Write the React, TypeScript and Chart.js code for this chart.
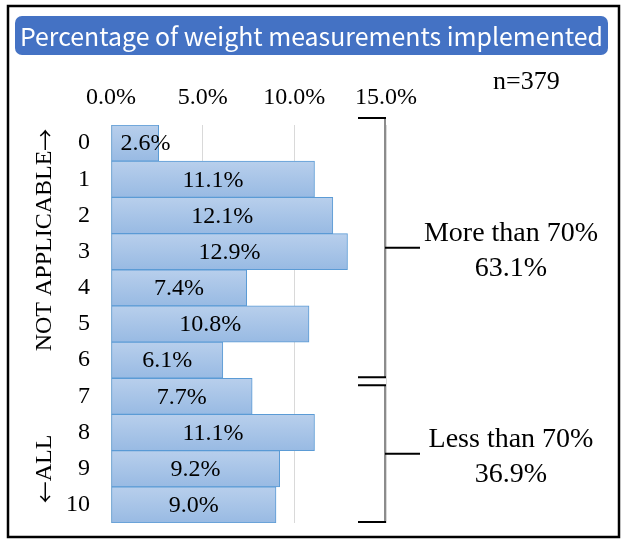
import React, { useEffect, useRef } from "react";
import { Chart, registerables } from "chart.js";

Chart.register(...registerables);

const categories = ["0", "1", "2", "3", "4", "5", "6", "7", "8", "9", "10"];
const shares = [2.6, 11.1, 12.1, 12.9, 7.4, 10.8, 6.1, 7.7, 11.1, 9.2, 9.0];
const xTickValues = [0, 5, 10, 15];
const titleText = "Percentage of weight measurements implemented";
const sampleText = "n=379";
const groupLabels = ["More than 70%", "Less than 70%"];
const groupTotals = ["63.1%", "36.9%"];
const groupFirst = [0, 7];
const groupLast = [6, 10];
const sideLabelParts = [
  ["NOT APPLICABLE", "\u2192"],
  ["\u2190", "ALL"],
];

const SERIF = '"Liberation Serif", "Times New Roman", serif';
const SANS = '"Noto Sans CJK JP", "Noto Sans", sans-serif';

const decorPlugin = {
  id: "decor",
  afterDatasetsDraw(chart: any) {
    const ctx = chart.ctx;
    const meta = chart.getDatasetMeta(0);
    ctx.save();
    ctx.font = `24px ${SERIF}`;
    ctx.fillStyle = "#000";
    ctx.textAlign = "center";
    ctx.textBaseline = "middle";
    meta.data.forEach((el: any, i: number) => {
      const txt = shares[i].toFixed(1) + "%";
      const w = ctx.measureText(txt).width;
      const cx = Math.max((el.base + el.x) / 2, el.base + w / 2 + 9);
      ctx.fillText(txt, cx, el.y + 1);
    });
    ctx.restore();
  },
  afterDraw(chart: any) {
    const ctx = chart.ctx;
    const xs = chart.scales.x;
    const ys = chart.scales.y;
    ctx.save();
    // outer frame
    ctx.strokeStyle = "#000";
    ctx.lineWidth = 2.5;
    ctx.strokeRect(8, 6, 611, 531);
    // title box
    ctx.fillStyle = "#4472C4";
    ctx.beginPath();
    (ctx as any).roundRect(15, 16, 593, 39, 7);
    ctx.fill();
    ctx.font = `24px ${SANS}`;
    const tw = ctx.measureText(titleText).width;
    const fs = (24 * 583) / tw;
    ctx.font = `${fs}px ${SANS}`;
    ctx.fillStyle = "#fff";
    ctx.textAlign = "center";
    ctx.textBaseline = "middle";
    ctx.fillText(titleText, 311.5, 37);
    // n
    ctx.fillStyle = "#000";
    ctx.font = `26px ${SERIF}`;
    ctx.textAlign = "left";
    ctx.textBaseline = "alphabetic";
    ctx.fillText(sampleText, 493, 89);
    // brackets
    const half = (ys.bottom - ys.top) / categories.length / 2;
    const bx = xs.getPixelForValue(15) - 1;
    groupLabels.forEach((lab, g) => {
      const y1 =
        g === 0
          ? ys.getPixelForValue(groupFirst[g]) - half - 7
          : ys.getPixelForValue(groupFirst[g]) - half + 7;
      const y2 = ys.getPixelForValue(groupLast[g]) + half - 1;
      const mid = (y1 + y2) / 2;
      ctx.strokeStyle = "#8c8c8c";
      ctx.lineWidth = 2;
      ctx.beginPath();
      ctx.moveTo(bx, y1);
      ctx.lineTo(bx, y2);
      ctx.stroke();
      ctx.strokeStyle = "#000";
      ctx.lineWidth = 2;
      ctx.beginPath();
      ctx.moveTo(358, y1);
      ctx.lineTo(bx + 1, y1);
      ctx.moveTo(358, y2);
      ctx.lineTo(bx + 1, y2);
      ctx.moveTo(bx, mid);
      ctx.lineTo(420, mid);
      ctx.stroke();
      ctx.font = `28px ${SERIF}`;
      ctx.textAlign = "center";
      ctx.textBaseline = "middle";
      ctx.fillStyle = "#000";
      ctx.fillText(lab, 511, mid - 14);
      ctx.fillText(groupTotals[g], 511, mid + 21);
    });
    // side labels (rotated, reading bottom to top)
    const sideY = [240, 469];
    const fontFor = (t: string) =>
      t === "\u2192" || t === "\u2190" ? `22px ${SANS}` : `24px ${SERIF}`;
    ctx.textBaseline = "middle";
    ctx.textAlign = "left";
    sideLabelParts.forEach((parts, i) => {
      let total = 0;
      const widths = parts.map((p) => {
        ctx.font = fontFor(p);
        const w = ctx.measureText(p).width;
        total += w;
        return w;
      });
      ctx.save();
      ctx.translate(45, sideY[i]);
      ctx.rotate(-Math.PI / 2);
      let x = -total / 2;
      parts.forEach((p, k) => {
        ctx.font = fontFor(p);
        ctx.fillText(p, x, 0);
        x += widths[k];
      });
      ctx.restore();
    });
    ctx.restore();
  },
};

export default function App() {
  const ref = useRef<HTMLCanvasElement | null>(null);
  useEffect(() => {
    document.body.style.margin = "0";
    const canvas = ref.current;
    if (!canvas) return;
    const chart = new Chart(canvas, {
      type: "bar",
      data: {
        labels: categories,
        datasets: [
          {
            data: shares,
            borderColor: "#5B9BD5",
            borderWidth: 1,
            borderSkipped: false,
            barPercentage: 1,
            categoryPercentage: 1,
            backgroundColor: (c: any) => {
              const ch = c.chart;
              const ys = ch.scales && ch.scales.y;
              if (!ys || c.dataIndex == null) return "#A8C5E8";
              const center = ys.getPixelForValue(c.dataIndex);
              const h = (ys.bottom - ys.top) / categories.length / 2;
              if (!isFinite(center) || !isFinite(h) || h <= 0) return "#A8C5E8";
              const g = ch.ctx.createLinearGradient(0, center - h, 0, center + h);
              g.addColorStop(0, "#B8CFEC");
              g.addColorStop(1, "#98BAE3");
              return g;
            },
          },
        ],
      },
      options: {
        indexAxis: "y",
        responsive: false,
        animation: false,
        devicePixelRatio: 1,
        layout: { padding: { left: 0, top: 0, right: 241, bottom: 22 } },
        plugins: { legend: { display: false }, tooltip: { enabled: false }, title: { display: false } },
        scales: {
          x: {
            position: "top",
            min: 0,
            max: 15,
            afterBuildTicks: (s: any) => {
              s.ticks = xTickValues.map((v) => ({ value: v }));
            },
            afterFit: (s: any) => {
              s.height = 125;
            },
            ticks: {
              color: "#000",
              font: { family: SERIF, size: 24 },
              padding: 13,
              maxRotation: 0,
              callback: (v: any) => Number(v).toFixed(1) + "%",
            },
            grid: { color: "#D9D9D9", drawTicks: false },
            border: { display: false },
          },
          y: {
            afterFit: (s: any) => {
              s.width = 111;
              s.paddingTop = 0;
              s.paddingBottom = 0;
            },
            ticks: {
              color: "#000",
              font: { family: SERIF, size: 24 },
              padding: 21,
            },
            grid: { display: false, drawTicks: false },
            border: { display: false },
          },
        },
      },
      plugins: [decorPlugin],
    } as any);
    return () => chart.destroy();
  }, []);
  return (
    <div style={{ width: 627, height: 545, background: "#fff" }}>
      <canvas ref={ref} width={627} height={545} style={{ display: "block" }} />
    </div>
  );
}
